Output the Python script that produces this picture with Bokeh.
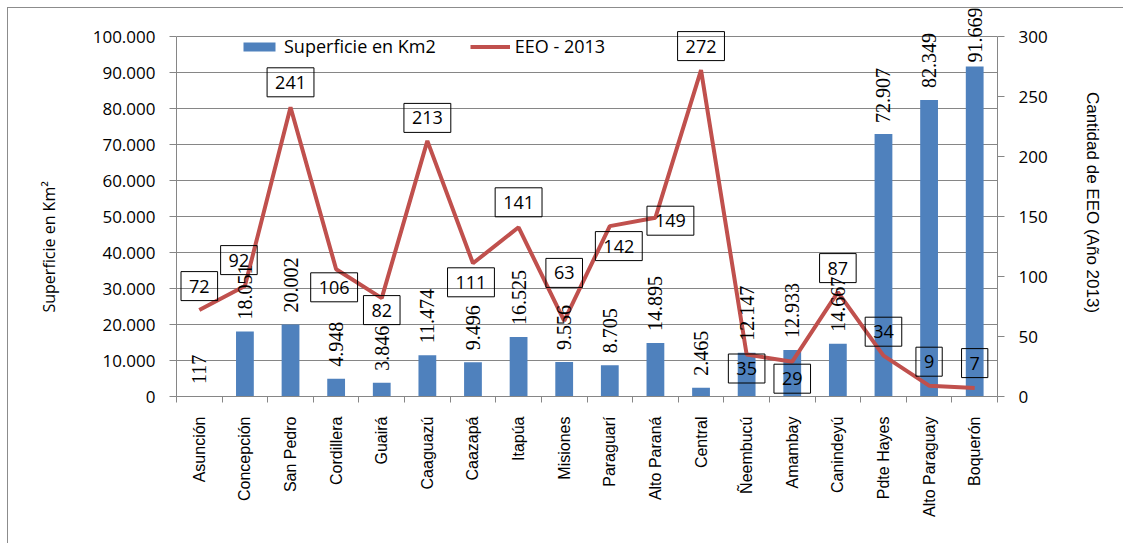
import math
from bokeh.plotting import figure
from bokeh.models import (ColumnDataSource, Range1d, LinearAxis, FixedTicker, LabelSet,
                          Legend, LegendItem, CustomJSTickFormatter, Title)
from bokeh.core.properties import value
from bokeh.embed import file_html
from bokeh.resources import INLINE

# ---------------- data ----------------
departamentos = ["Asunción", "Concepción", "San Pedro", "Cordillera", "Guairá", "Caaguazú",
                 "Caazapá", "Itapúa", "Misiones", "Paraguarí", "Alto Paraná", "Central",
                 "Ñeembucú", "Amambay", "Canindeyú", "Pdte Hayes", "Alto Paraguay", "Boquerón"]
superficie_km2 = [117, 18051, 20002, 4948, 3846, 11474, 9496, 16525, 9556, 8705, 14895, 2465,
                  12147, 12933, 14667, 72907, 82349, 91669]
eeo_2013 = [72, 92, 241, 106, 82, 213, 111, 141, 63, 142, 149, 272, 35, 29, 87, 34, 9, 7]
left_ticks = [0, 10000, 20000, 30000, 40000, 50000, 60000, 70000, 80000, 90000, 100000]
right_ticks = [0, 50, 100, 150, 200, 250, 300]
left_max = 100000
right_max = 300

# label placement (screen px offsets of the EEO boxes relative to their points; + = up)
label_dx = [0, -6, 0, -2, 0, 0, -2, 0, 0, 9, 15, 0, 0, 0, 0, 0, 0, 0]
label_dy = [24, 26, 25, -18, -12, 23, -19, 25, 48, -20, -3, 24, -14, -17, 24, 24, 24, 25]
# gap (px) between bar top and its rotated value label
bar_label_gap = [12, 12, 12, 12, 12, 12, 12, 12, 12, 12, 12, 12, 12, 12, 12, 11, 12, 4]

# ---------------- styles ----------------
BLUE = "#4F81BD"
RED = "#C0504D"
GREY = "#868686"
BORDER = "#8c8c8c"
MAIN_FONT = "Open Sans"
NARROW = "Liberation Sans Narrow"
ARIAL = "Liberation Sans"

# layout: axis area (0..max) spans 360 px; the frame reaches 28 px higher for labels
AXIS_PX = 360
FRAME_PX = 388
head = FRAME_PX / AXIS_PX

n = len(departamentos)
xs = [i + 0.5 for i in range(n)]

def fmt_miles(v):
    return f"{v:,}".replace(",", ".")

src = ColumnDataSource(dict(
    x=xs, sup=superficie_km2, eeo=eeo_2013,
    sup_txt=[fmt_miles(v) for v in superficie_km2],
    eeo_txt=[str(v) for v in eeo_2013],
    dx=label_dx, dy_down=[-d for d in label_dy], gap=bar_label_gap,
))

bg = (f"linear-gradient({BORDER},{BORDER}) 7px 7px / 1px 100% no-repeat, "
      f"linear-gradient({BORDER},{BORDER}) 7px 7px / 100% 1px no-repeat, white")

p = figure(frame_width=821, frame_height=FRAME_PX,
           min_border_left=176, min_border_right=126, min_border_top=8, min_border_bottom=147,
           x_range=Range1d(0, n), y_range=Range1d(0, left_max * head),
           output_backend="svg", toolbar_location=None, tools="",
           styles={"background": bg})
p.outline_line_color = None
p.background_fill_color = "white"
p.border_fill_alpha = 0

p.extra_y_ranges = {"eeo": Range1d(0, right_max * head)}

# bars
bars = p.vbar(x="x", top="sup", width=0.39, source=src, fill_color=BLUE, line_color=None)
# line
line = p.line(x="x", y="eeo", source=src, y_range_name="eeo", line_color=RED, line_width=4)

# x axis
xa = p.xaxis[0]
xa.ticker = FixedTicker(ticks=xs, minor_ticks=list(range(n + 1)))
xa.formatter = CustomJSTickFormatter(args=dict(names=departamentos),
                                     code="return names[Math.floor(tick)];")
xa.major_label_orientation = math.pi / 2
xa.major_label_text_font = ARIAL
xa.major_label_text_font_size = "16px"
xa.major_label_text_color = "black"
xa.major_label_standoff = 14
xa.major_tick_out = 0
xa.major_tick_in = 0
xa.minor_tick_out = 6
xa.minor_tick_in = 0
xa.minor_tick_line_color = GREY
xa.axis_line_color = GREY

# left axis
ya = p.yaxis[0]
ya.ticker = FixedTicker(ticks=left_ticks)
ya.bounds = (0, left_max)
ya.formatter = CustomJSTickFormatter(
    code="return tick.toFixed(0).replace(/\\B(?=(\\d{3})+(?!\\d))/g, '.');")
ya.major_label_text_font = MAIN_FONT
ya.major_label_text_font_size = "17px"
ya.major_label_text_color = "black"
ya.major_label_standoff = 14
ya.major_tick_out = 7
ya.major_tick_in = 0
ya.minor_tick_line_color = None
ya.major_tick_line_color = GREY
ya.axis_line_color = GREY

p.add_layout(Title(text="Superficie en Km²", align="left", offset=84, standoff=60,
                   text_font=MAIN_FONT, text_font_size="16px", text_font_style="normal",
                   text_color="black"), "left")

p.xgrid.visible = False
p.ygrid.grid_line_color = GREY
p.ygrid.grid_line_width = 1

# right axis
ra = LinearAxis(y_range_name="eeo", ticker=FixedTicker(ticks=right_ticks), bounds=(0, right_max))
ra.axis_label = "Cantidad de EEO (Año 2013)"
ra.axis_label_text_font = ARIAL
ra.axis_label_text_font_size = "17px"
ra.axis_label_text_font_style = "normal"
ra.axis_label_text_color = "black"
ra.axis_label_standoff = 32
ra.major_label_text_font = MAIN_FONT
ra.major_label_text_font_size = "17px"
ra.major_label_text_color = "black"
ra.major_label_standoff = 14
ra.major_tick_out = 7
ra.major_tick_in = 0
ra.minor_tick_line_color = None
ra.major_tick_line_color = GREY
ra.axis_line_color = GREY
p.add_layout(ra, "right")

# bar value labels (rotated)
bar_labels = LabelSet(x="x", y="sup", text="sup_txt", source=src, angle=90, angle_units="deg",
                      text_align="left", text_baseline="middle", y_offset="gap",
                      text_font=NARROW, text_font_size="20px", text_color="black")
p.add_layout(bar_labels)

# EEO boxed labels
p.text(x="x", y="eeo", text="eeo_txt", source=src, y_range_name="eeo",
       x_offset="dx", y_offset="dy_down", text_align="center", text_baseline="middle",
       text_font=value(MAIN_FONT), text_font_size="18px", text_color="black",
       border_line_color="black", border_line_width=1,
       background_fill_color=None, padding=8)

# legend
legend = Legend(items=[LegendItem(label="Superficie en Km2", renderers=[bars]),
                       LegendItem(label="EEO - 2013", renderers=[line])],
                orientation="horizontal", location=(63, 338),
                glyph_width=40, glyph_height=11, label_standoff=5, spacing=34,
                padding=0, margin=0, border_line_color=None, background_fill_alpha=0,
                label_text_font=MAIN_FONT, label_text_font_size="18px",
                label_text_color="black")
p.add_layout(legend)

open("out.html", "w").write(file_html(p, INLINE))
